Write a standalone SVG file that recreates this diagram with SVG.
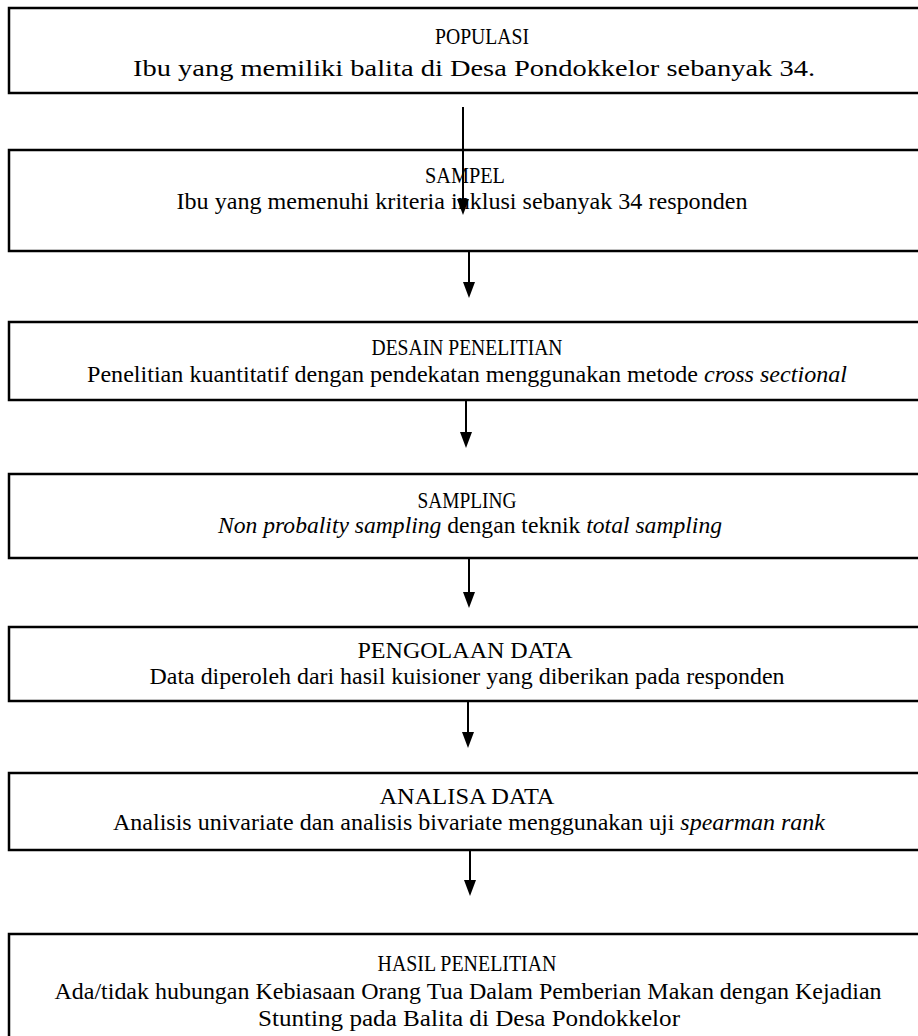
<svg xmlns="http://www.w3.org/2000/svg" width="918" height="1036" viewBox="0 0 918 1036">
<defs>
<style>
.box{fill:#fff;stroke:#000;stroke-width:2.5}
.t{font-family:"Liberation Serif","Times New Roman",serif;font-size:23px;fill:#000;text-anchor:middle}
.c{stroke:#000;stroke-width:2;fill:none}
.ah{fill:#000}
</style>
</defs>
<rect width="918" height="1036" fill="#fff"/>
<g id="n1"><rect class="box" x="9" y="8" width="920" height="85"/>
<text class="t" x="482" y="44" textLength="94" lengthAdjust="spacingAndGlyphs">POPULASI</text>
<text class="t" x="474" y="76" textLength="682" lengthAdjust="spacingAndGlyphs">Ibu yang memiliki balita di Desa Pondokkelor sebanyak 34.</text></g>
<g id="n2"><rect class="box" x="9" y="150" width="920" height="101"/>
<text class="t" x="465" y="183" textLength="80" lengthAdjust="spacingAndGlyphs">SAMPEL</text>
<text class="t" x="462" y="209" textLength="571" lengthAdjust="spacingAndGlyphs">Ibu yang memenuhi kriteria inklusi sebanyak 34 responden</text></g>
<g id="n3"><rect class="box" x="9" y="322" width="920" height="78"/>
<text class="t" x="467" y="355" textLength="191" lengthAdjust="spacingAndGlyphs">DESAIN PENELITIAN</text>
<text class="t" x="467" y="382" textLength="760" lengthAdjust="spacingAndGlyphs">Penelitian kuantitatif dengan pendekatan menggunakan metode <tspan font-style="italic">cross sectional</tspan></text></g>
<g id="n4"><rect class="box" x="9" y="474" width="920" height="84"/>
<text class="t" x="467" y="508" textLength="99" lengthAdjust="spacingAndGlyphs">SAMPLING</text>
<text class="t" x="470" y="533" textLength="504" lengthAdjust="spacingAndGlyphs"><tspan font-style="italic">Non probality sampling</tspan> dengan teknik <tspan font-style="italic">total sampling</tspan></text></g>
<g id="n5"><rect class="box" x="9" y="627" width="920" height="74"/>
<text class="t" x="465" y="658" textLength="215" lengthAdjust="spacingAndGlyphs">PENGOLAAN DATA</text>
<text class="t" x="467" y="684" textLength="635" lengthAdjust="spacingAndGlyphs">Data diperoleh dari hasil kuisioner yang diberikan pada responden</text></g>
<g id="n6"><rect class="box" x="9" y="773" width="920" height="77"/>
<text class="t" x="467" y="804" textLength="175" lengthAdjust="spacingAndGlyphs">ANALISA DATA</text>
<text class="t" x="469" y="830" textLength="712" lengthAdjust="spacingAndGlyphs">Analisis univariate dan analisis bivariate menggunakan uji <tspan font-style="italic">spearman rank</tspan></text></g>
<g id="n7"><rect class="box" x="9" y="934" width="920" height="120"/>
<text class="t" x="467" y="971" textLength="179" lengthAdjust="spacingAndGlyphs">HASIL PENELITIAN</text>
<text class="t" x="468" y="999" textLength="827" lengthAdjust="spacingAndGlyphs">Ada/tidak hubungan Kebiasaan Orang Tua Dalam Pemberian Makan dengan Kejadian</text>
<text class="t" x="469" y="1026" textLength="422" lengthAdjust="spacingAndGlyphs">Stunting pada Balita di Desa Pondokkelor</text></g>
<g id="connectors">
<line class="c" x1="463" y1="107" x2="463" y2="200"/>
<path class="ah" d="M457,199 L469,199 L463,215 Z"/>
<line class="c" x1="469" y1="252" x2="469" y2="284"/>
<path class="ah" d="M463,282 L475,282 L469,298 Z"/>
<line class="c" x1="466" y1="401" x2="466" y2="434"/>
<path class="ah" d="M460,432 L472,432 L466,448 Z"/>
<line class="c" x1="469" y1="559" x2="469" y2="594"/>
<path class="ah" d="M463,592 L475,592 L469,608 Z"/>
<line class="c" x1="468" y1="702" x2="468" y2="734"/>
<path class="ah" d="M462,732 L474,732 L468,748 Z"/>
<line class="c" x1="470" y1="851" x2="470" y2="882"/>
<path class="ah" d="M464,880 L476,880 L470,896 Z"/>
</g>
</svg>
